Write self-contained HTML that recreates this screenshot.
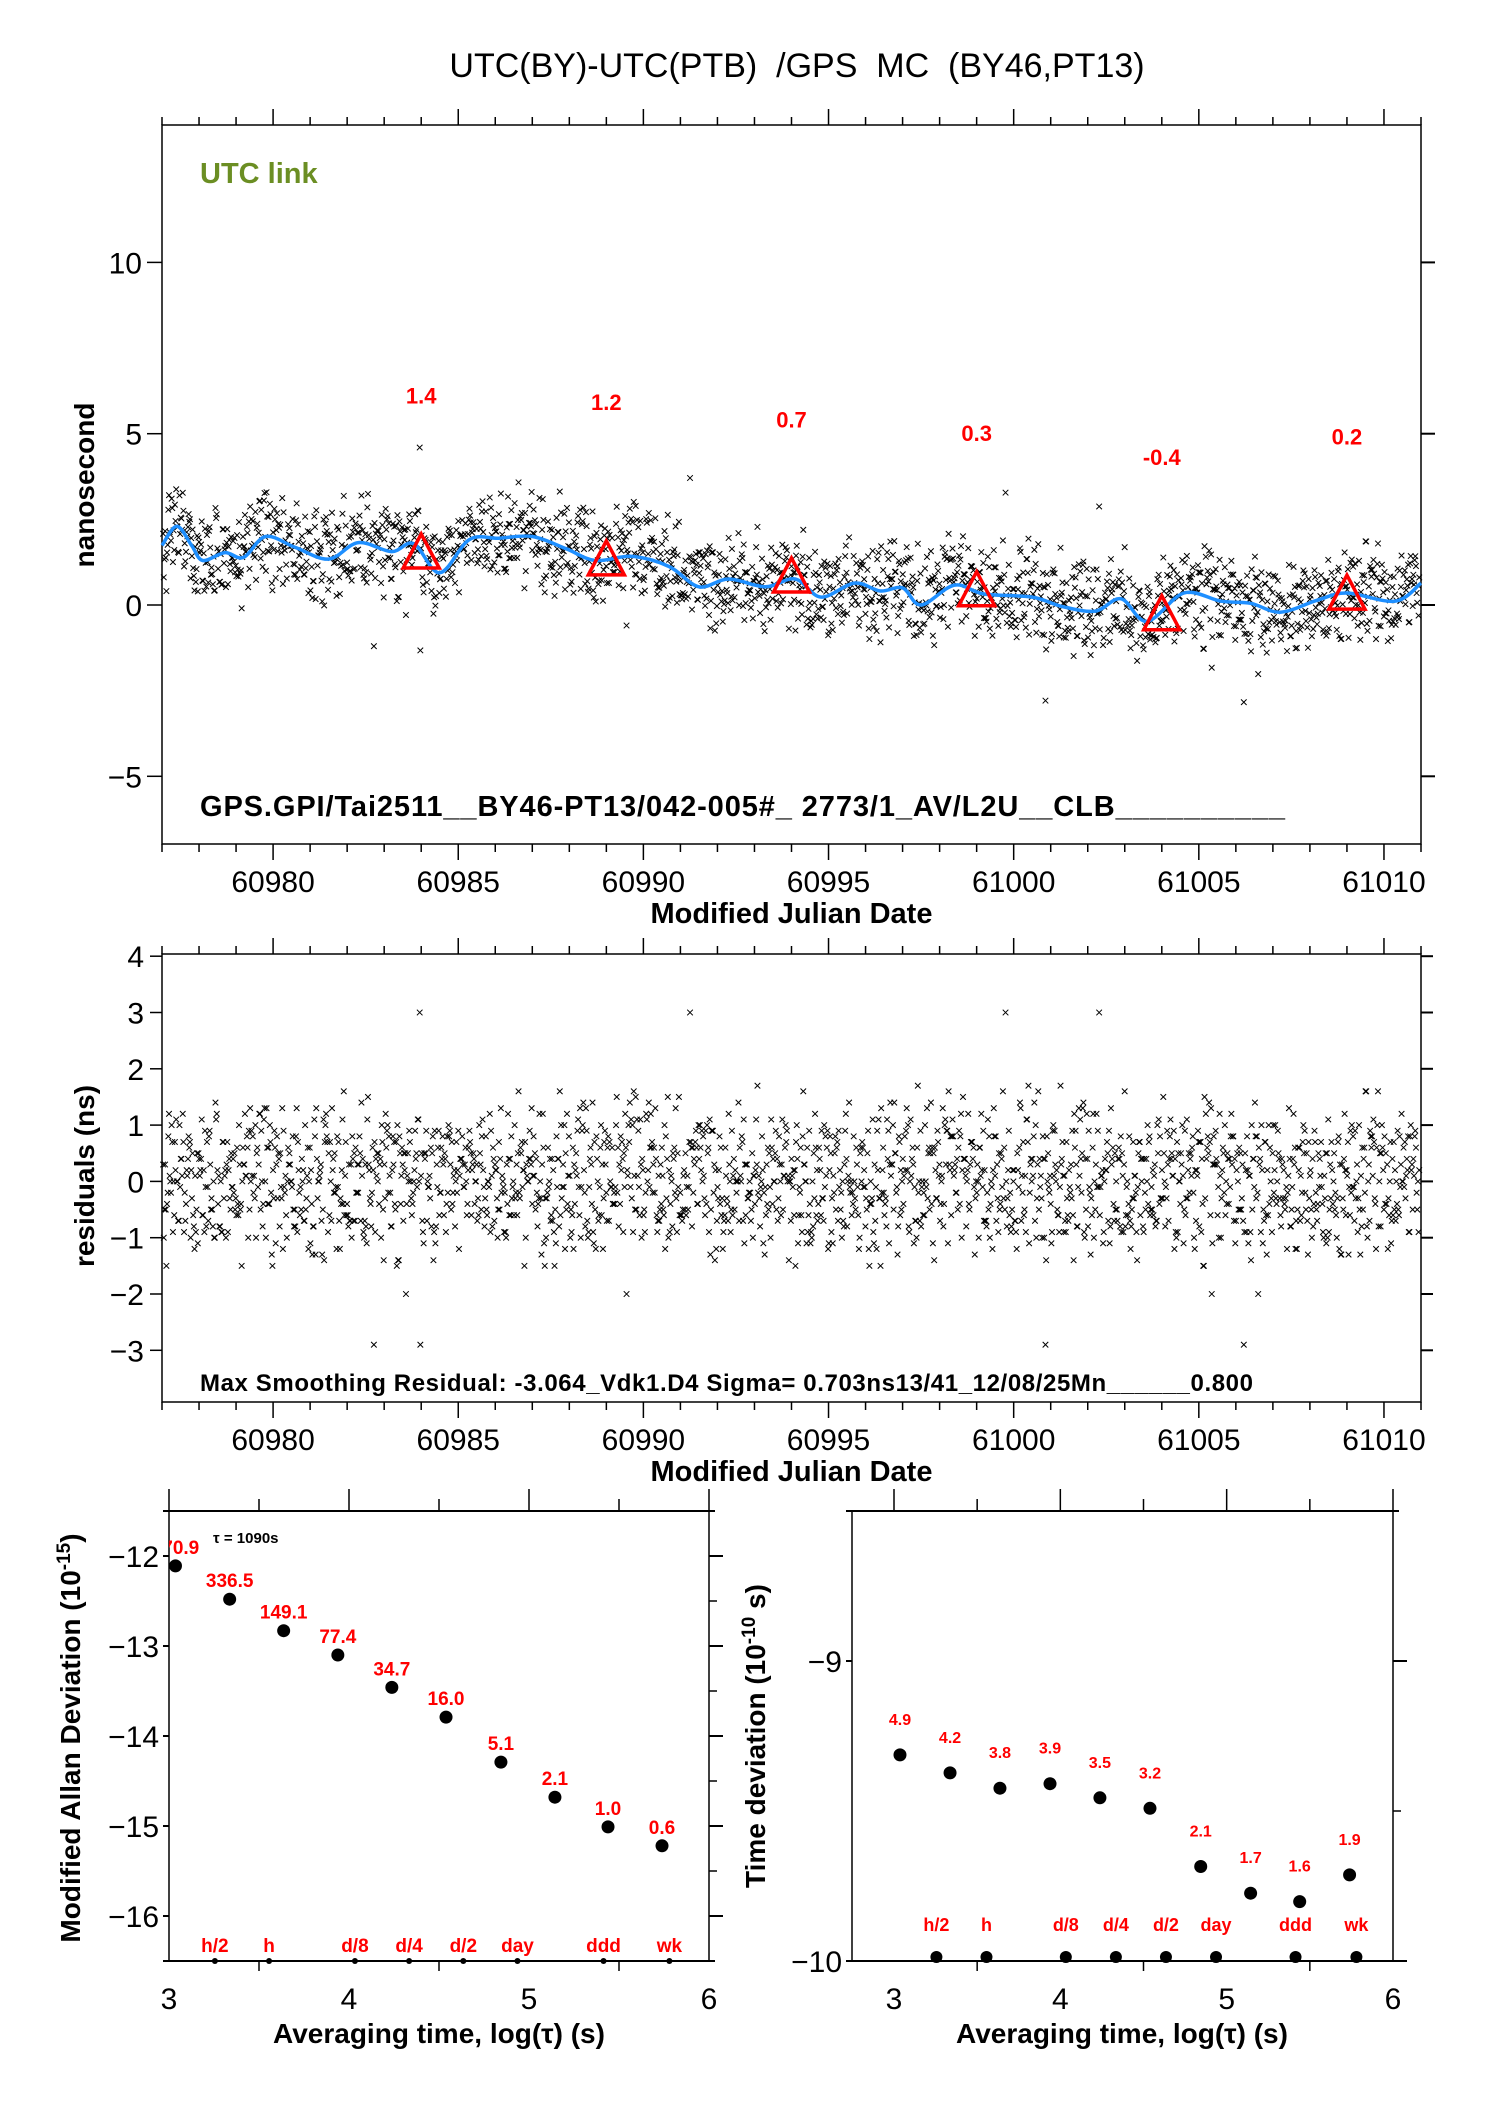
<!DOCTYPE html>
<html><head><meta charset="utf-8"><style>
body{margin:0;background:#fff}
svg{display:block}
text{font-family:"Liberation Sans",sans-serif}
</style></head><body>
<svg id="s" width="1488" height="2105" viewBox="0 0 1488 2105" xmlns="http://www.w3.org/2000/svg">
<defs><clipPath id="adevclip"><rect x="169" y="1480" width="600" height="500"/></clipPath></defs>
<text x="797" y="77" font-size="34" text-anchor="middle" xml:space="preserve">UTC(BY)-UTC(PTB)  /GPS  MC  (BY46,PT13)</text>
<g id="top"></g>
<g id="res"></g>
<g id="adev"></g>
<g id="tdev"></g>
</svg>
<script>
// ---- data ----
const xTickLabels=[60980,60985,60990,60995,61000,61005,61010];
const topYTickLabels=[-5,0,5,10];
const resYTickLabels=[-3,-2,-1,0,1,2,3,4];
const smoothT=[60977,60977.4,60977.8,60978.1,60978.7,60979.2,60979.8,60980.6,60981.5,60982.3,60983.2,60983.8,60984.5,60985.3,60986.1,60987.0,60987.9,60988.7,60989.7,60990.7,60991.5,60992.3,60993.3,60994.1,60994.8,60995.7,60996.4,60997.0,60997.5,60998.4,60999.2,61000.5,61001.3,61002.2,61002.9,61003.6,61004.6,61005.6,61006.4,61007.2,61008.2,61009.0,61010.3,61011];
const smoothV=[1.74,2.3,1.74,1.30,1.53,1.39,2.0,1.68,1.34,1.82,1.56,1.79,0.94,1.91,1.95,2.0,1.65,1.30,1.42,1.12,0.53,0.76,0.53,0.76,0.23,0.64,0.41,0.50,0,0.58,0.32,0.23,-0.04,-0.18,0.18,-0.48,0.35,0.11,0.05,-0.21,0.14,0.35,0.11,0.64];
const stationMJD=[60984,60989,60994,60999,61004,61009];
const stationVal=[1.4,1.2,0.7,0.3,-0.4,0.2];
const residTenths=[
3,-5,8,-2,0,11,-7,4,-9,2,6,-3,-12,5,1,-6,9,-1,3,-8,14,-4,0,7,-10,2,5,-2,-6,10,-15,3,8,-5,1,-3,6,12,-8,0,
-4,7,2,-11,5,-1,9,-6,3,0,-8,13,-2,4,-7,1,6,-13,8,-3,2,-5,10,-9,0,4,-1,7,-4,16,-6,3,-10,5,-2,8,1,-7,11,-3,
6,-9,0,4,-5,12,-2,-8,3,7,-14,1,5,-4,9,-6,2,-1,30,-7,4,0,-3,8,-11,6,-2,3,-9,10,-5,1,7,-12,4,-1,-6,9,2,-4,
-7,5,11,-3,0,-9,6,2,-5,13,-1,-10,4,8,-6,3,-2,7,-15,1,9,-4,5,-8,0,12,-3,6,-7,2,-11,4,10,-1,-5,8,-9,3,1,-6,
9,-2,-7,4,14,-5,0,6,-12,3,8,-1,-4,10,-8,2,5,-20,7,-3,1,11,-6,4,-9,0,6,-2,13,-7,3,-5,8,-10,1,4,-3,15,-6,2,
-1,7,-8,3,-4,10,0,-6,5,-13,9,2,-3,6,-9,1,12,-5,4,-2,-7,8,-11,3,0,5,-4,17,-8,2,-1,6,-10,4,9,-3,-6,1,7,-14,
4,-6,10,-1,-9,3,6,-4,0,12,-7,2,-3,8,-12,5,1,-5,9,-2,-8,4,14,-6,0,3,-10,7,-1,5,-4,11,-7,2,-15,6,-3,9,1,-5,
-2,8,-5,1,13,-9,4,-1,6,-7,0,10,-3,5,-11,2,7,-4,-8,3,16,-6,1,-2,9,-10,4,0,-5,7,-13,3,6,-1,-7,11,-4,2,8,-9,
5,-3,0,9,-8,2,-12,6,1,-5,11,-2,4,-7,3,-1,8,-29,5,-4,10,0,-6,3,-9,7,2,-3,12,-8,1,5,-10,4,-2,6,-5,9,-1,-11,
2,-7,13,-4,0,6,-9,3,-1,8,-5,1,-14,7,4,-2,10,-6,2,-8,5,-3,15,-1,-7,4,9,-10,0,3,-5,11,-2,6,-12,1,7,-4,-3,8,
-6,3,9,-1,-10,5,0,-4,12,-7,2,6,-3,-9,8,1,-5,14,-2,4,-11,7,-6,0,10,-3,5,-8,2,-1,13,-5,3,-12,6,-2,9,-7,1,4,
7,-4,1,-9,5,11,-3,0,-6,8,-13,4,2,-1,10,-7,3,-5,6,-2,-10,9,1,-4,16,-8,2,5,-3,-11,7,0,-6,12,-1,4,-9,3,8,-5];
const tauTickLabels=[3,4,5,6];
const adevYTickLabels=[-12,-13,-14,-15,-16];
const tdevYTickLabels=[-9,-10];
const adevLogTau=[3.036,3.337,3.637,3.938,4.238,4.539,4.844,5.144,5.439,5.739];
const adevVal=[-12.11,-12.48,-12.83,-13.10,-13.46,-13.79,-14.29,-14.68,-15.01,-15.22];
const adevLabels=["670.9","336.5","149.1","77.4","34.7","16.0","5.1","2.1","1.0","0.6"];
const tdevVal=[-9.313,-9.373,-9.424,-9.409,-9.456,-9.491,-9.685,-9.774,-9.802,-9.713];
const tdevLabels=["4.9","4.2","3.8","3.9","3.5","3.2","2.1","1.7","1.6","1.9"];
const markLogTau=[3.255,3.556,4.033,4.334,4.635,4.936,5.414,5.78];
const markLabels=["h/2","h","d/8","d/4","d/2","day","ddd","wk"];

const NS="http://www.w3.org/2000/svg";
function mk(parent,tag,attrs,txt){const e=document.createElementNS(NS,tag);for(const k in attrs)e.setAttribute(k,attrs[k]);if(txt!==undefined)e.textContent=txt;parent.appendChild(e);return e;}
function lin(d0,d1,r0,r1){return v=>r0+(v-d0)*(r1-r0)/(d1-d0);}
function interp(t){for(let i=0;i<smoothT.length-1;i++){if(t<=smoothT[i+1]){const f=(t-smoothT[i])/(smoothT[i+1]-smoothT[i]);return smoothV[i]+f*(smoothV[i+1]-smoothV[i]);}}return smoothV[smoothV.length-1];}
// each sample is re-read in several passes with a scrambled index so the cloud has realistic density
function samples(){const n=residTenths.length,out=[],passes=4,strides=[1,7,13,29],offs=[0,131,257,389];
  for(let k=0;k<passes;k++)for(let i=0;i<n;i++){out.push({t:60977.03+(i+k/passes)*(33.94/n),r:residTenths[(i*strides[k]+offs[k])%n]/10});}return out;}

function frame(g,L,T,R,B){const r=mk(g,'rect',{x:L,y:T,width:R-L,height:B-T,fill:'none',stroke:'#000','stroke-width':1.5});}
function mjdAxes(g,L,T,R,B,sx){
  for(let d=60977;d<=61011;d++){const x=sx(d);const major=d%5===0;const len=major?16:8;
    mk(g,'line',{x1:x,y1:T,x2:x,y2:T-len,stroke:'#000','stroke-width':1.5});
    mk(g,'line',{x1:x,y1:B,x2:x,y2:B+len,stroke:'#000','stroke-width':1.5});}
  xTickLabels.forEach(v=>{const t=mk(g,'text',{x:sx(v),y:B+48,'font-size':30,'text-anchor':'middle'},String(v));});
  const xl=mk(g,'text',{x:(L+R)/2,y:B+79,'font-size':29,'font-weight':'bold','text-anchor':'middle'},'Modified Julian Date');
  
}
function cross(g,x,y){mk(g,'path',{d:`M${x-2.8} ${y-2.8}L${x+2.8} ${y+2.8}M${x-2.8} ${y+2.8}L${x+2.8} ${y-2.8}`,stroke:'#000','stroke-width':1,fill:'none'});}

// ---- top panel ----
(function(){
  const g=document.getElementById('top');const L=162,T=125,R=1421,B=844;
  const sx=lin(60977,61011,L,R), sy=lin(0,5,605,433.7);
  frame(g,L,T,R,B);mjdAxes(g,L,T,R,B,sx);
  topYTickLabels.forEach(v=>{const y=sy(v);mk(g,'line',{x1:L-15,y1:y,x2:L,y2:y,stroke:'#000','stroke-width':1.5});mk(g,'line',{x1:R,y1:y,x2:R+14,y2:y,stroke:'#000','stroke-width':2});
    const t=mk(g,'text',{x:L-20,y:y+11,'font-size':30,'text-anchor':'end'},v<0?'\u2212'+(-v):String(v));});
  const yl=mk(g,'text',{x:0,y:0,'font-size':28,'font-weight':'bold','text-anchor':'middle',transform:`translate(94,485) rotate(-90)`},'nanosecond');
  
  const ul=mk(g,'text',{x:200,y:183,'font-size':29,'font-weight':'bold',fill:'#6b8e23'},'UTC link');
  const gt=mk(g,'text',{x:200,y:816,'font-size':29,'font-weight':'bold',textLength:1085},'GPS.GPI/Tai2511__BY46-PT13/042-005#_  2773/1_AV/L2U__CLB__________');
  gt.setAttribute('xml:space','preserve');
  const pts=mk(g,'g',{});
  samples().forEach(p=>cross(pts,sx(p.t),sy(interp(p.t)+p.r)));
  // smooth curve (Catmull-Rom through read points)
  const P=smoothT.map((t,i)=>[sx(t),sy(smoothV[i])]);
  let d='M'+P[0][0].toFixed(1)+' '+P[0][1].toFixed(1);
  for(let i=0;i<P.length-1;i++){const p0=P[Math.max(0,i-1)],p1=P[i],p2=P[i+1],p3=P[Math.min(P.length-1,i+2)];
    const c1=[p1[0]+(p2[0]-p0[0])/6,p1[1]+(p2[1]-p0[1])/6],c2=[p2[0]-(p3[0]-p1[0])/6,p2[1]-(p3[1]-p1[1])/6];
    d+=`C${c1[0].toFixed(1)} ${c1[1].toFixed(1)} ${c2[0].toFixed(1)} ${c2[1].toFixed(1)} ${p2[0].toFixed(1)} ${p2[1].toFixed(1)}`;}
  const ln=mk(g,'path',{d:d,fill:'none',stroke:'#1e8fff','stroke-width':3.5,'stroke-linejoin':'round'});
  stationMJD.forEach((m,i)=>{const x=sx(m),y=sy(stationVal[i]);
    const tr=mk(g,'path',{d:`M${x} ${y-23}L${x+18} ${y+11}L${x-18} ${y+11}Z`,fill:'none',stroke:'#ff0000','stroke-width':3.5});
    const tl=mk(g,'text',{x:x,y:sy(stationVal[i]+4.75)+9,'font-size':22,'font-weight':'bold',fill:'#ff0000','text-anchor':'middle'},stationVal[i].toFixed(1));});
})();

// ---- residual panel ----
(function(){
  const g=document.getElementById('res');const L=162,T=954,R=1421,B=1402;
  const sx=lin(60977,61011,L,R), sy=lin(0,3,1181.4,1012.5);
  frame(g,L,T,R,B);mjdAxes(g,L,T,R,B,sx);
  resYTickLabels.forEach(v=>{const y=sy(v);mk(g,'line',{x1:L-12,y1:y,x2:L,y2:y,stroke:'#000','stroke-width':1.5});mk(g,'line',{x1:R,y1:y,x2:R+12,y2:y,stroke:'#000','stroke-width':2});
    const t=mk(g,'text',{x:L-18,y:y+11,'font-size':30,'text-anchor':'end'},v<0?'\u2212'+(-v):String(v));});
  const yl=mk(g,'text',{x:0,y:0,'font-size':28,'font-weight':'bold','text-anchor':'middle',transform:`translate(94,1176) rotate(-90)`},'residuals (ns)');
  
  const mt=mk(g,'text',{x:200,y:1391,'font-size':24,'font-weight':'bold',textLength:1053},'Max Smoothing Residual: -3.064_Vdk1.D4  Sigma= 0.703ns13/41_12/08/25Mn______0.800');
  mt.setAttribute('xml:space','preserve');
  const pts=mk(g,'g',{});
  samples().forEach(p=>cross(pts,sx(p.t),sy(p.r)));
})();

// ---- stability panels ----
function stabAxes(g,L,T,R,B,sx,sy,yTicks,x0){
  frame(g,L,T,R,B);
  for(let v=3;v<=6.001;v+=0.5){const x=sx(v);const major=Math.abs(v-Math.round(v))<0.01;const len=major?22:12;
    mk(g,'line',{x1:x,y1:T,x2:x,y2:T-len,stroke:'#000','stroke-width':1.5});
    mk(g,'line',{x1:x,y1:B,x2:x,y2:B+(major?0:10),stroke:'#000','stroke-width':1.5});}
  mk(g,'line',{x1:L-6,y1:B,x2:R+6,y2:B,stroke:'#000','stroke-width':2});
  mk(g,'line',{x1:L-6,y1:T,x2:R+6,y2:T,stroke:'#000','stroke-width':2});
  tauTickLabels.forEach(v=>{const t=mk(g,'text',{x:sx(v),y:B+48,'font-size':30,'text-anchor':'middle'},String(v));});
  yTicks.forEach(v=>{const y=sy(v);mk(g,'line',{x1:R,y1:y,x2:R+14,y2:y,stroke:'#000','stroke-width':2});mk(g,'line',{x1:L-6,y1:y,x2:L,y2:y,stroke:'#000','stroke-width':2});
    const t=mk(g,'text',{x:L-10,y:y+11,'font-size':30,'text-anchor':'end'},'\u2212'+(-v));});
  for(let v=yTicks[0]-0.5;v>yTicks[yTicks.length-1];v-=1){const y=sy(v);mk(g,'line',{x1:R,y1:y,x2:R+8,y2:y,stroke:'#000','stroke-width':1.5});}
  const xl=mk(g,'text',{x:x0,y:B+82,'font-size':28,'font-weight':'bold','text-anchor':'middle'},'Averaging time, log(\u03c4) (s)');
  
}
(function(){
  const g=document.getElementById('adev');const L=169,T=1511,R=709,B=1961;
  const sx=lin(3,6,L,R), sy=lin(-11.5,-16.5,T,B);
  stabAxes(g,L,T,R,B,sx,sy,adevYTickLabels,439);
  const yl=mk(g,'text',{x:0,y:0,'font-size':28,'font-weight':'bold','text-anchor':'middle',transform:`translate(80,1738) rotate(-90)`});
  yl.innerHTML='Modified Allan Deviation (10<tspan dy="-10" font-size="19">-15</tspan><tspan dy="10">)</tspan>';
  
  const tl=mk(g,'text',{x:213,y:1543,'font-size':15,'font-weight':'bold'},'\u03c4 = 1090s');
  const lg=mk(g,'g',{'clip-path':'url(#adevclip)'});
  adevLogTau.forEach((lt,i)=>{const x=sx(lt),y=sy(adevVal[i]);
    const c=mk(g,'circle',{cx:x,cy:y,r:6.5,fill:'#000'});
    const t=mk(lg,'text',{x:x,y:y-12,'font-size':19,'font-weight':'bold',fill:'#ff0000','text-anchor':'middle'},adevLabels[i]);});
  markLogTau.forEach((lt,i)=>{const x=sx(lt);
    const c=mk(g,'circle',{cx:x,cy:B,r:3,fill:'#000'});
    const t=mk(g,'text',{x:x,y:B-9,'font-size':19,'font-weight':'bold',fill:'#ff0000','text-anchor':'middle'},markLabels[i]);});
})();
(function(){
  const g=document.getElementById('tdev');const L=852,T=1511,R=1393,B=1961;
  const sx=lin(3,6,894,1393), sy=lin(-8.5,-10,T,B);
  stabAxes(g,L,T,R,B,sx,sy,tdevYTickLabels,1122);
  const yl=mk(g,'text',{x:0,y:0,'font-size':28,'font-weight':'bold','text-anchor':'middle',transform:`translate(765,1736) rotate(-90)`});
  yl.innerHTML='Time deviation (10<tspan dy="-10" font-size="19">-10</tspan><tspan dy="10"> s)</tspan>';
  
  adevLogTau.forEach((lt,i)=>{const x=sx(lt),y=sy(tdevVal[i]);
    const c=mk(g,'circle',{cx:x,cy:y,r:6.5,fill:'#000'});
    const t=mk(g,'text',{x:x,y:y-30,'font-size':16,'font-weight':'bold',fill:'#ff0000','text-anchor':'middle'},tdevLabels[i]);});
  markLogTau.forEach((lt,i)=>{const x=sx(lt);
    const c=mk(g,'circle',{cx:x,cy:B-4,r:6,fill:'#000'});
    const t=mk(g,'text',{x:x,y:B-30,'font-size':18,'font-weight':'bold',fill:'#ff0000','text-anchor':'middle'},markLabels[i]);});
})();
</script>
</body></html>
